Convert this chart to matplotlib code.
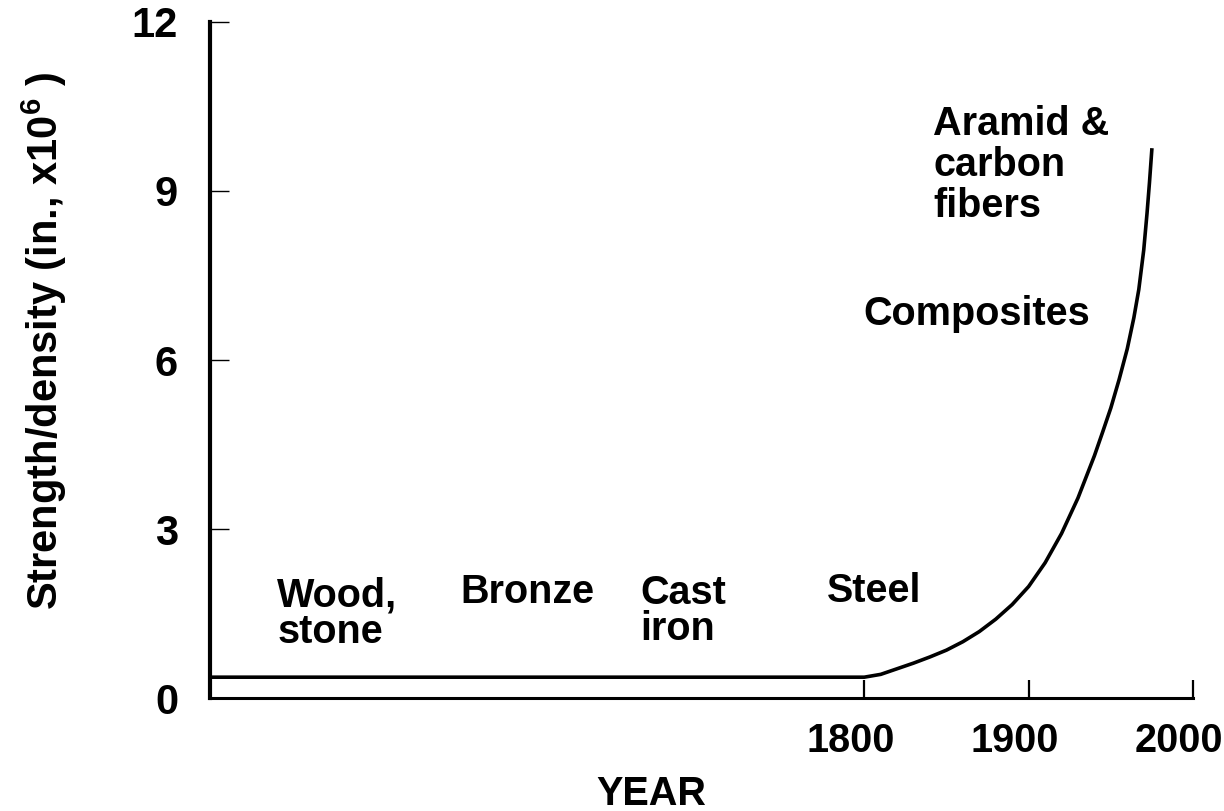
import matplotlib
matplotlib.use("Agg")
import matplotlib.pyplot as plt
from matplotlib.transforms import ScaledTranslation

plt.rcParams['font.family'] = ['Liberation Sans', 'DejaVu Sans']
plt.rcParams['font.weight'] = 'bold'
plt.rcParams['mathtext.fontset'] = 'custom'
plt.rcParams['mathtext.rm'] = 'Liberation Sans:bold'
plt.rcParams['mathtext.default'] = 'rm'

# strength/density curve
years = [1402, 1800, 1810, 1820, 1830, 1840, 1850, 1860, 1870, 1880,
         1890, 1900, 1910, 1920, 1930, 1940, 1945, 1950, 1955, 1960,
         1964, 1967, 1970, 1972, 1973.5, 1975]
strength = [0.37, 0.37, 0.42, 0.52, 0.62, 0.73, 0.85, 1.00, 1.18, 1.40,
            1.66, 1.98, 2.40, 2.92, 3.55, 4.30, 4.72, 5.15, 5.65, 6.20,
            6.75, 7.25, 7.95, 8.60, 9.15, 9.76]

x_ticks = [1800, 1900, 2000]
y_ticks = [0, 3, 6, 9, 12]

materials = ["Wood,\nstone", "Bronze", "Cast\niron", "Steel",
             "Composites", "Aramid &\ncarbon\nfibers"]
label_x = [1443, 1554, 1664, 1777, 1799.5, 1842]
# baseline of the last line of each label
label_y = [0.98, 1.69, 1.03, 1.71, 6.63, 8.53]

fig = plt.figure(figsize=(12.24, 8.11), dpi=100)
ax = fig.add_axes([0.1716, 0.1393, 0.8031, 0.8336])

ax.plot(years, strength, color='black', lw=2.6, solid_capstyle='butt')

ax.set_xlim(1402, 2000)
ax.set_ylim(0, 12)
ax.set_xticks(x_ticks)
ax.set_yticks(y_ticks)
ax.set_xticklabels([])
ax.tick_params(axis='x', direction='in', length=13, width=1.6)
ax.tick_params(axis='y', direction='in', length=14, width=1.0, pad=23,
               labelsize=30)
for lab in ax.get_yticklabels():
    lab.set_fontweight('bold')

# year labels sit a little left of their ticks
shift = ScaledTranslation(-0.14, 0, fig.dpi_scale_trans)
for yr in x_ticks:
    ax.text(yr, -0.08, str(yr), transform=ax.get_xaxis_transform() + shift,
            ha='center', va='baseline', fontsize=28.5, fontweight='bold')

ax.spines['top'].set_visible(False)
ax.spines['right'].set_visible(False)
ax.spines['left'].set_linewidth(3.0)
ax.spines['bottom'].set_linewidth(2.2)

for name, lx, ly in zip(materials, label_x, label_y):
    gap = 0.95 if ly < 5 else 1.1
    ax.text(lx, ly, name, fontsize=28.5, fontweight='bold', ha='left',
            va='baseline', linespacing=gap)

fig.text(0.532, 0.0074, 'YEAR', fontsize=28.5, fontweight='bold',
         ha='center', va='baseline')
fig.text(0.036, 0.579, r'Strength/density (in., x10$^{6}$ )', rotation=90,
         fontsize=30, fontweight='bold', ha='center', va='center')

fig.savefig('out.png', dpi=100)
